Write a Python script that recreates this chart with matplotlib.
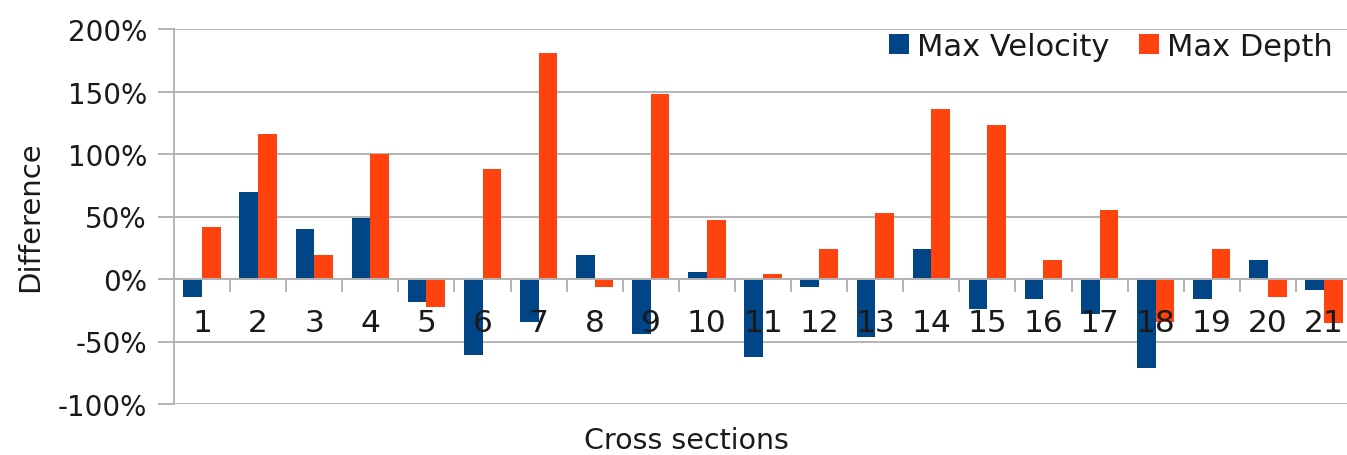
import numpy as np
import matplotlib
matplotlib.use('Agg')
import matplotlib.pyplot as plt
from matplotlib.ticker import FuncFormatter, FixedLocator

# data (percent)
sections = [str(i) for i in range(1, 22)]
max_velocity = [-14, 70, 40, 49, -18, -61, -34, 19, -44, 6, -62,
                -6, -46, 24, -24, -16, -28, -71, -16, 15, -9]
max_depth = [42, 116, 19, 100, -22, 88, 181, -6, 148, 47, 4,
             24, 53, 136, 123, 15, 55, -34, 24, -14, -35]
yticks = [-100, -50, 0, 50, 100, 150, 200]

blue = '#004586'
orange = '#ff420e'
grey = '#b3b3b3'

fig = plt.figure(figsize=(13.47, 4.56), dpi=100)
ax = fig.add_axes([174/1347, 51/456, 1178/1347, 375/456])

x = np.arange(len(sections))
w = 0.333
ax.bar(x - w/2, max_velocity, w, color=blue, label='Max Velocity', zorder=1)
ax.bar(x + w/2, max_depth, w, color=orange, label='Max Depth', zorder=1)

ax.set_xlim(-0.5, len(sections) - 0.5)
ax.set_ylim(-100, 200)
ax.set_yticks(yticks)
ax.yaxis.set_major_formatter(FuncFormatter(lambda v, p: '%d%%' % v))
ax.grid(axis='y', color=grey, linewidth=1.4)
ax.yaxis.set_zorder(0.5)
ax.xaxis.set_zorder(3)

for s in ['top', 'right']:
    ax.spines[s].set_visible(False)
ax.spines['left'].set_color(grey)
ax.spines['left'].set_linewidth(1.4)
ax.spines['bottom'].set_position(('data', 0))
ax.spines['bottom'].set_color(grey)
ax.spines['bottom'].set_linewidth(1.4)

ax.set_xticks(x)
ax.set_xticklabels(sections)
ax.xaxis.set_minor_locator(FixedLocator(x[:-1] + 0.5))
ax.tick_params(axis='x', which='major', length=0, pad=21, labelsize=22.5,
               labelcolor='#1a1a1a')
ax.tick_params(axis='x', which='minor', length=9.4, width=1.4, color=grey,
               direction='out')
ax.tick_params(axis='y', length=11.5, width=1.4, color=grey, pad=8,
               labelsize=20, labelcolor='#1a1a1a')

fig.text(30/1347, 1 - 217/456, 'Difference', rotation=90, ha='center',
         va='center', fontsize=21, color='#1a1a1a')
fig.text(686/1347, 1 - 441/456, 'Cross sections', ha='center',
         va='center', fontsize=20.5, color='#1a1a1a')

ax.legend(loc='center right', bbox_to_anchor=(1333/1347, 1 - 47/456),
          bbox_transform=fig.transFigure, ncol=2, frameon=False,
          fontsize=22, handlelength=0.65, handleheight=0.65,
          handletextpad=0.26, columnspacing=1.0, borderpad=0,
          borderaxespad=0, labelcolor='#1a1a1a')

fig.savefig('out.png', dpi=100)
